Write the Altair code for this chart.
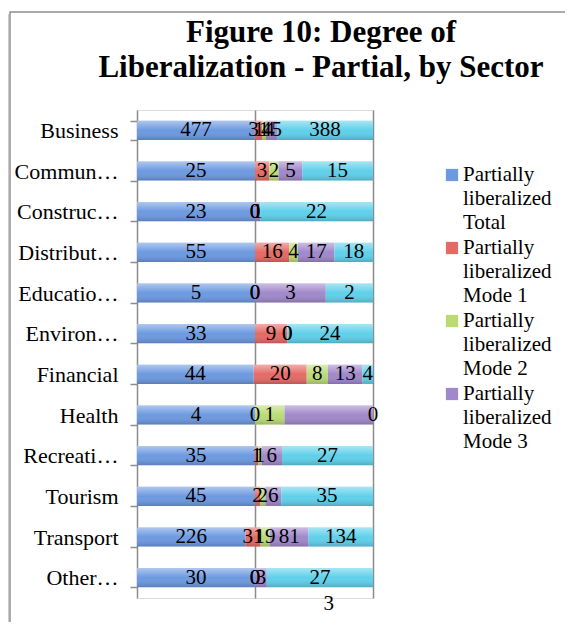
import altair as alt
import pandas as pd

sectors = ["Business", "Commun…", "Construc…", "Distribut…", "Educatio…", "Environ…",
           "Financial", "Health", "Recreati…", "Tourism", "Transport", "Other…"]
total = [477, 25, 23, 55, 5, 33, 44, 4, 35, 45, 226, 30]
mode1 = [31, 3, 0, 16, 0, 9, 20, 0, 1, 2, 31, 0]
mode2 = [14, 2, 0, 4, 0, 0, 8, 1, 1, 2, 19, 0]
mode3 = [45, 5, 1, 17, 3, 0, 13, 3, 6, 6, 81, 3]
mode4 = [388, 15, 22, 18, 2, 24, 4, 0, 27, 35, 134, 27]
series = ["Partially liberalized Total", "Partially liberalized Mode 1",
          "Partially liberalized Mode 2", "Partially liberalized Mode 3",
          "Partially liberalized Mode 4"]
colors = ["#6C99E0", "#E46A66", "#BADB74", "#A088CA", "#5FD0EA"]
title_lines = ["Figure 10: Degree of", "Liberalization - Partial, by Sector"]
legend_shown = 4  # the reference legend is cut off after Mode 3

rows = []
for i, s in enumerate(sectors):
    for k, vals in enumerate([total, mode1, mode2, mode3, mode4]):
        rows.append({"sector": s, "series": series[k], "order": k, "value": vals[i]})
df = pd.DataFrame(rows)

W, H = 236, 488
FONT = "Liberation Serif"

y_enc = alt.Y("sector:N", sort=sectors, title=None,
              scale=alt.Scale(paddingInner=0.53, paddingOuter=0.265),
              axis=alt.Axis(tickBand="extent", domainColor="#8c8c8c", tickColor="#8c8c8c",
                            domainWidth=1.5, tickWidth=1.5, tickSize=7, labelPadding=12,
                            labelFont=FONT, labelFontSize=22, labelColor="black",
                            grid=False))

base = alt.Chart(df).transform_stack(
    stack="value", groupby=["sector"], as_=["x0", "x1"], offset="normalize",
    sort=[alt.SortField("order", order="ascending")]
).transform_calculate(mid="(datum.x0 + datum.x1) / 2")

bars = base.mark_bar().encode(
    y=y_enc,
    x=alt.X("x0:Q", scale=alt.Scale(domain=[0, 1], nice=False),
            axis=alt.Axis(labels=False, ticks=False, domain=False, grid=True,
                          values=[0.5, 1], gridColor="#8c8c8c", gridWidth=1.5, title=None)),
    x2="x1:Q",
    color=alt.Color("series:N", sort=series,
                    scale=alt.Scale(domain=series, range=colors), legend=None),
)

overlay = alt.Chart(df).transform_filter("datum.order == 0").mark_bar(
    fill=alt.Gradient(gradient="linear", x1=0, x2=0, y1=0, y2=1,
                      stops=[alt.GradientStop(color="rgba(255,255,255,0.45)", offset=0),
                             alt.GradientStop(color="rgba(255,255,255,0.0)", offset=0.5),
                             alt.GradientStop(color="rgba(0,0,0,0.18)", offset=1)])
).encode(y=y_enc, x=alt.value(0), x2=alt.value(W))

labels = base.transform_filter("!(datum.sector == 'Health' && datum.order == 3)").mark_text(
    font=FONT, fontSize=21, color="black"
).encode(y=y_enc, x="mid:Q", text="value:Q")

stray = base.transform_filter("datum.sector == 'Health' && datum.order == 3").mark_text(
    font=FONT, fontSize=21, color="black"
).encode(x="mid:Q", y=alt.value(H + 6), text="value:Q")

frame_df = pd.DataFrame({"k": [0]})
frame = alt.Chart(frame_df).mark_rect(fillOpacity=0, stroke="#8f8f8f", strokeWidth=1.5).encode(
    x=alt.value(-127), x2=alt.value(W + 260), y=alt.value(-98), y2=alt.value(H + 100))
shadow = alt.Chart(frame_df).mark_rect(
    fill=alt.Gradient(gradient="linear", x1=0, x2=1, y1=0, y2=0,
                      stops=[alt.GradientStop(color="#ffffff", offset=0),
                             alt.GradientStop(color="#c8c8c8", offset=1)])
).encode(x=alt.value(-137), x2=alt.value(-128), y=alt.value(-96), y2=alt.value(H + 100))

title = alt.Chart(frame_df).mark_text(
    font=FONT, fontSize=31, fontWeight="bold", color="black", lineHeight=35,
    align="center", baseline="middle"
).encode(x=alt.value(184), y=alt.value(-77), text=alt.value(title_lines))

# manual legend (wrapped labels, symbol beside first line)
legend_layers = []
for k in range(legend_shown):
    ly = 65 + 73 * k
    words = series[k].split(" ")
    lines = [words[0], words[1], " ".join(words[2:])]
    legend_layers.append(
        alt.Chart(frame_df).mark_square(size=150, color=colors[k], opacity=1).encode(
            x=alt.value(315), y=alt.value(ly)))
    legend_layers.append(
        alt.Chart(frame_df).mark_text(font=FONT, fontSize=21, color="black", lineHeight=24,
                                      align="left", baseline="middle").encode(
            x=alt.value(326), y=alt.value(ly), text=alt.value(lines)))

chart = alt.layer(shadow, frame, bars, overlay, labels, stray, title, *legend_layers).properties(
    width=W, height=H,
    padding={"left": 129, "top": 102, "right": 192, "bottom": 24},
    autosize=alt.AutoSizeParams(type="none"),
).configure_view(stroke=None).configure(background="white")

chart.save("out.html", embed_options={"renderer": "svg", "actions": False})
